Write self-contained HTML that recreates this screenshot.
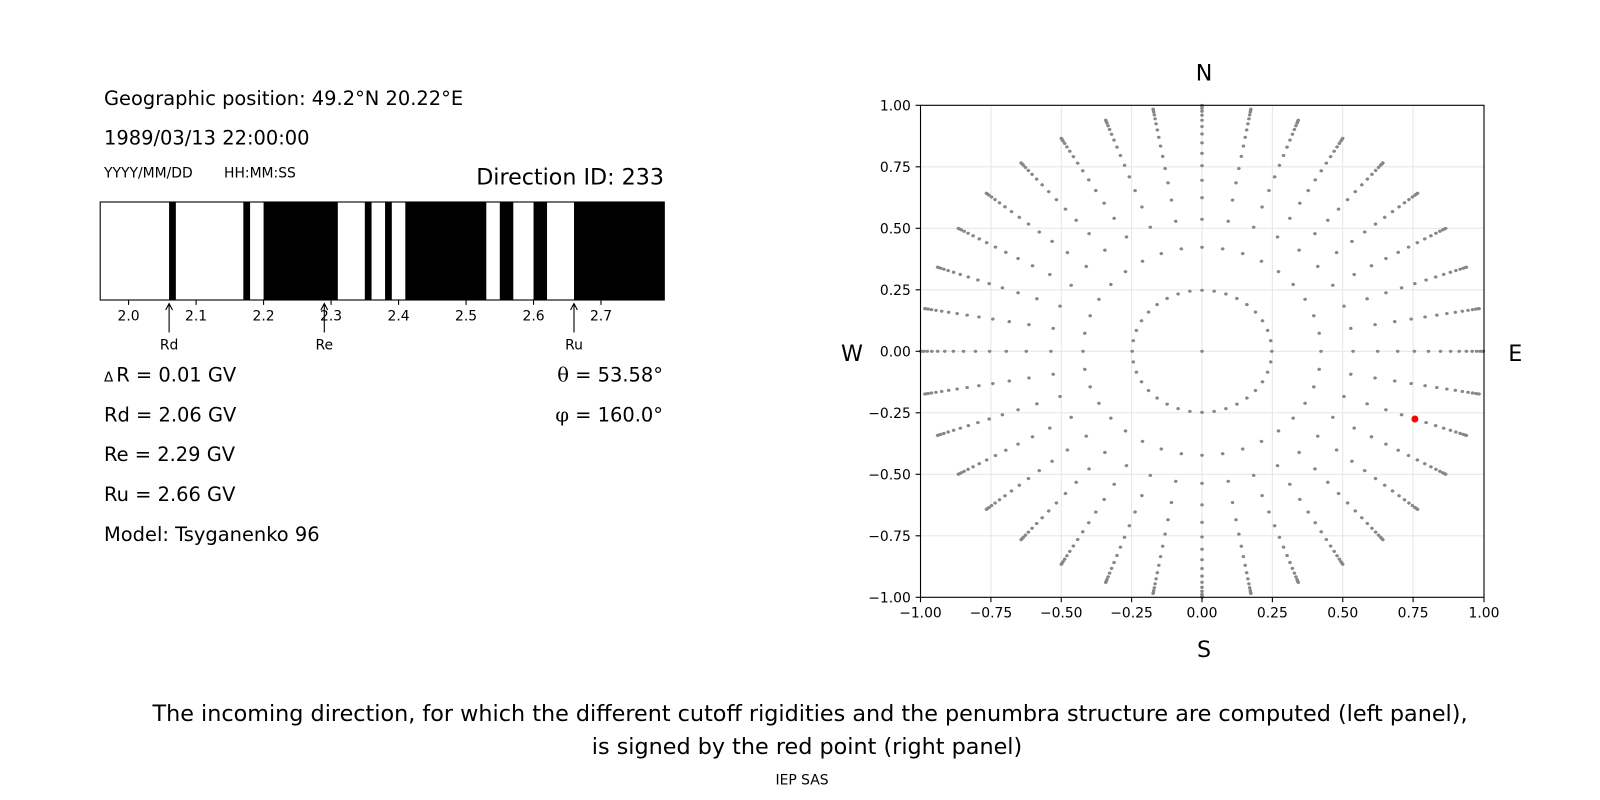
<!DOCTYPE html>
<html>
<head>
<meta charset="utf-8">
<style>
  html, body { margin: 0; padding: 0; background: #ffffff; }
  svg { display: block; }
  text { font-family: "DejaVu Sans", "Liberation Sans", sans-serif; fill: #000; }
</style>
</head>
<body>
<svg width="1600" height="800" viewBox="0 0 1600 800" xmlns="http://www.w3.org/2000/svg">
  <rect x="0" y="0" width="1600" height="800" fill="#ffffff"/>

  <!-- ================= LEFT PANEL TEXT ================= -->
  <text x="104" y="105" font-size="19.44">Geographic position: 49.2°N 20.22°E</text>
  <text x="104" y="144.5" font-size="19.44">1989/03/13 22:00:00</text>
  <text x="104" y="177.5" font-size="13.9">YYYY/MM/DD</text>
  <text x="224" y="177.5" font-size="13.9">HH:MM:SS</text>
  <text x="664" y="184.5" font-size="22.2" text-anchor="end">Direction ID: 233</text>

  <!-- Penumbra bar -->
  <rect x="100.2" y="202" width="564.1" height="98" fill="#ffffff"/>
  <g fill="#000000">
    <rect x="169.09" y="202" width="6.75" height="98"/>
    <rect x="243.33" y="202" width="6.75" height="98"/>
    <rect x="263.58" y="202" width="74.24" height="98"/>
    <rect x="364.82" y="202" width="6.74" height="98"/>
    <rect x="385.06" y="202" width="6.75" height="98"/>
    <rect x="405.31" y="202" width="80.99" height="98"/>
    <rect x="499.8" y="202" width="13.49" height="98"/>
    <rect x="533.54" y="202" width="13.5" height="98"/>
    <rect x="574.03" y="202" width="90.27" height="98"/>
  </g>
  <rect x="100.2" y="202" width="564.1" height="98" fill="none" stroke="#000" stroke-width="1.1"/>

  <!-- bar ticks -->
  <g stroke="#000" stroke-width="1.1">
    <line x1="128.6" y1="300" x2="128.6" y2="304.9"/>
    <line x1="196.09" y1="300" x2="196.09" y2="304.9"/>
    <line x1="263.58" y1="300" x2="263.58" y2="304.9"/>
    <line x1="331.07" y1="300" x2="331.07" y2="304.9"/>
    <line x1="398.56" y1="300" x2="398.56" y2="304.9"/>
    <line x1="466.05" y1="300" x2="466.05" y2="304.9"/>
    <line x1="533.54" y1="300" x2="533.54" y2="304.9"/>
    <line x1="601.03" y1="300" x2="601.03" y2="304.9"/>
  </g>
  <g font-size="13.9" text-anchor="middle">
    <text x="128.6" y="320.3">2.0</text>
    <text x="196.09" y="320.3">2.1</text>
    <text x="263.58" y="320.3">2.2</text>
    <text x="331.07" y="320.3">2.3</text>
    <text x="398.56" y="320.3">2.4</text>
    <text x="466.05" y="320.3">2.5</text>
    <text x="533.54" y="320.3">2.6</text>
    <text x="601.03" y="320.3">2.7</text>
  </g>

  <!-- arrows Rd, Re, Ru -->
  <g stroke="#000" stroke-width="1.1" fill="none">
    <path d="M169.1 332.5 L169.1 303.6 M165.7 310 L169.1 303.6 L172.5 310"/>
    <path d="M324.3 332.5 L324.3 303.6 M320.9 310 L324.3 303.6 L327.7 310"/>
    <path d="M574 332.5 L574 303.6 M570.6 310 L574 303.6 L577.4 310"/>
  </g>
  <g font-size="13.9" text-anchor="middle">
    <text x="169.1" y="349.5">Rd</text>
    <text x="324.3" y="349.5">Re</text>
    <text x="574" y="349.5">Ru</text>
  </g>

  <!-- values -->
  <g font-size="19.44">
    <text x="104" y="381.6"><tspan font-size="13.5">Δ</tspan><tspan dx="3">R = 0.01 GV</tspan></text>
    <text x="104" y="421.4">Rd = 2.06 GV</text>
    <text x="104" y="461.2">Re = 2.29 GV</text>
    <text x="104" y="501">Ru = 2.66 GV</text>
    <text x="104" y="540.8">Model: Tsyganenko 96</text>
    <text x="663" y="381.6" text-anchor="end"><tspan font-family="DejaVu Serif, Liberation Serif, serif">θ</tspan> = 53.58°</text>
    <text x="663" y="421.4" text-anchor="end"><tspan font-family="DejaVu Serif, Liberation Serif, serif">φ</tspan> = 160.0°</text>
  </g>

  <!-- ================= RIGHT PANEL ================= -->
  <rect x="920.5" y="105.3" width="563.5" height="492" fill="#ffffff"/>
  <!-- grid -->
  <g stroke="#e8e8e8" stroke-width="1.1">
    <line x1="990.9" y1="105.3" x2="990.9" y2="597.3"/>
    <line x1="1061.25" y1="105.3" x2="1061.25" y2="597.3"/>
    <line x1="1131.6" y1="105.3" x2="1131.6" y2="597.3"/>
    <line x1="1202" y1="105.3" x2="1202" y2="597.3"/>
    <line x1="1272.4" y1="105.3" x2="1272.4" y2="597.3"/>
    <line x1="1342.75" y1="105.3" x2="1342.75" y2="597.3"/>
    <line x1="1413.1" y1="105.3" x2="1413.1" y2="597.3"/>
    <line x1="920.5" y1="166.8" x2="1483.5" y2="166.8"/>
    <line x1="920.5" y1="228.3" x2="1483.5" y2="228.3"/>
    <line x1="920.5" y1="289.8" x2="1483.5" y2="289.8"/>
    <line x1="920.5" y1="351.3" x2="1483.5" y2="351.3"/>
    <line x1="920.5" y1="412.8" x2="1483.5" y2="412.8"/>
    <line x1="920.5" y1="474.3" x2="1483.5" y2="474.3"/>
    <line x1="920.5" y1="535.8" x2="1483.5" y2="535.8"/>
  </g>

  <!-- direction points -->
  <g transform="translate(1202 351.3) scale(281.5 -246)" fill="#878787">
    <circle cx="0" cy="0" r="0.0064"/>
    <g id="sp">
      <circle cx="0.24804" cy="0" r="0.0064"/>
      <circle cx="0.42274" cy="0" r="0.0064"/>
      <circle cx="0.53674" cy="0" r="0.0064"/>
      <circle cx="0.62422" cy="0" r="0.0064"/>
      <circle cx="0.69527" cy="0" r="0.0064"/>
      <circle cx="0.75455" cy="0" r="0.0064"/>
      <circle cx="0.80465" cy="0" r="0.0064"/>
      <circle cx="0.84722" cy="0" r="0.0064"/>
      <circle cx="0.88333" cy="0" r="0.0064"/>
      <circle cx="0.91376" cy="0" r="0.0064"/>
      <circle cx="0.93906" cy="0" r="0.0064"/>
      <circle cx="0.95964" cy="0" r="0.0064"/>
      <circle cx="0.97578" cy="0" r="0.0064"/>
      <circle cx="0.98772" cy="0" r="0.0064"/>
      <circle cx="0.99560" cy="0" r="0.0064"/>
      <circle cx="0.99951" cy="0" r="0.0064"/>
    </g>
    <use href="#sp" transform="rotate(10)"/>
    <use href="#sp" transform="rotate(20)"/>
    <use href="#sp" transform="rotate(30)"/>
    <use href="#sp" transform="rotate(40)"/>
    <use href="#sp" transform="rotate(50)"/>
    <use href="#sp" transform="rotate(60)"/>
    <use href="#sp" transform="rotate(70)"/>
    <use href="#sp" transform="rotate(80)"/>
    <use href="#sp" transform="rotate(90)"/>
    <use href="#sp" transform="rotate(100)"/>
    <use href="#sp" transform="rotate(110)"/>
    <use href="#sp" transform="rotate(120)"/>
    <use href="#sp" transform="rotate(130)"/>
    <use href="#sp" transform="rotate(140)"/>
    <use href="#sp" transform="rotate(150)"/>
    <use href="#sp" transform="rotate(160)"/>
    <use href="#sp" transform="rotate(170)"/>
    <use href="#sp" transform="rotate(180)"/>
    <use href="#sp" transform="rotate(190)"/>
    <use href="#sp" transform="rotate(200)"/>
    <use href="#sp" transform="rotate(210)"/>
    <use href="#sp" transform="rotate(220)"/>
    <use href="#sp" transform="rotate(230)"/>
    <use href="#sp" transform="rotate(240)"/>
    <use href="#sp" transform="rotate(250)"/>
    <use href="#sp" transform="rotate(260)"/>
    <use href="#sp" transform="rotate(270)"/>
    <use href="#sp" transform="rotate(280)"/>
    <use href="#sp" transform="rotate(290)"/>
    <use href="#sp" transform="rotate(300)"/>
    <use href="#sp" transform="rotate(310)"/>
    <use href="#sp" transform="rotate(320)"/>
    <use href="#sp" transform="rotate(330)"/>
    <use href="#sp" transform="rotate(340)"/>
    <use href="#sp" transform="rotate(350)"/>
  </g>

  <!-- red point -->
  <circle cx="1414.9" cy="419.0" r="3.5" fill="#ff0000"/>

  <!-- spines -->
  <rect x="920.5" y="105.3" width="563.5" height="492" fill="none" stroke="#000" stroke-width="1.1"/>

  <!-- ticks -->
  <g stroke="#000" stroke-width="1.1">
    <line x1="920.5" y1="597.3" x2="920.5" y2="602.2"/>
    <line x1="990.9" y1="597.3" x2="990.9" y2="602.2"/>
    <line x1="1061.25" y1="597.3" x2="1061.25" y2="602.2"/>
    <line x1="1131.6" y1="597.3" x2="1131.6" y2="602.2"/>
    <line x1="1202" y1="597.3" x2="1202" y2="602.2"/>
    <line x1="1272.4" y1="597.3" x2="1272.4" y2="602.2"/>
    <line x1="1342.75" y1="597.3" x2="1342.75" y2="602.2"/>
    <line x1="1413.1" y1="597.3" x2="1413.1" y2="602.2"/>
    <line x1="1484" y1="597.3" x2="1484" y2="602.2"/>
    <line x1="915.6" y1="105.3" x2="920.5" y2="105.3"/>
    <line x1="915.6" y1="166.8" x2="920.5" y2="166.8"/>
    <line x1="915.6" y1="228.3" x2="920.5" y2="228.3"/>
    <line x1="915.6" y1="289.8" x2="920.5" y2="289.8"/>
    <line x1="915.6" y1="351.3" x2="920.5" y2="351.3"/>
    <line x1="915.6" y1="412.8" x2="920.5" y2="412.8"/>
    <line x1="915.6" y1="474.3" x2="920.5" y2="474.3"/>
    <line x1="915.6" y1="535.8" x2="920.5" y2="535.8"/>
    <line x1="915.6" y1="597.3" x2="920.5" y2="597.3"/>
  </g>
  <g font-size="13.9" text-anchor="middle">
    <text x="920.5" y="617.5">−1.00</text>
    <text x="990.9" y="617.5">−0.75</text>
    <text x="1061.25" y="617.5">−0.50</text>
    <text x="1131.6" y="617.5">−0.25</text>
    <text x="1202" y="617.5">0.00</text>
    <text x="1272.4" y="617.5">0.25</text>
    <text x="1342.75" y="617.5">0.50</text>
    <text x="1413.1" y="617.5">0.75</text>
    <text x="1484" y="617.5">1.00</text>
  </g>
  <g font-size="13.9" text-anchor="end">
    <text x="910.8" y="110.3">1.00</text>
    <text x="910.8" y="171.8">0.75</text>
    <text x="910.8" y="233.3">0.50</text>
    <text x="910.8" y="294.8">0.25</text>
    <text x="910.8" y="356.3">0.00</text>
    <text x="910.8" y="417.8">−0.25</text>
    <text x="910.8" y="479.3">−0.50</text>
    <text x="910.8" y="540.8">−0.75</text>
    <text x="910.8" y="602.3">−1.00</text>
  </g>

  <!-- compass labels -->
  <g font-size="22.2" text-anchor="middle">
    <text x="1204" y="80.5">N</text>
    <text x="1204" y="657">S</text>
    <text x="852" y="361">W</text>
    <text x="1515.3" y="361">E</text>
  </g>

  <!-- ================= CAPTION ================= -->
  <g font-size="22.3" text-anchor="middle">
    <text x="810" y="721.2">The incoming direction, for which the different cutoff rigidities and the penumbra structure are computed (left panel),</text>
    <text x="807" y="754">is signed by the red point (right panel)</text>
  </g>
  <text x="802" y="784.6" font-size="13.9" text-anchor="middle">IEP SAS</text>
</svg>
</body>
</html>
